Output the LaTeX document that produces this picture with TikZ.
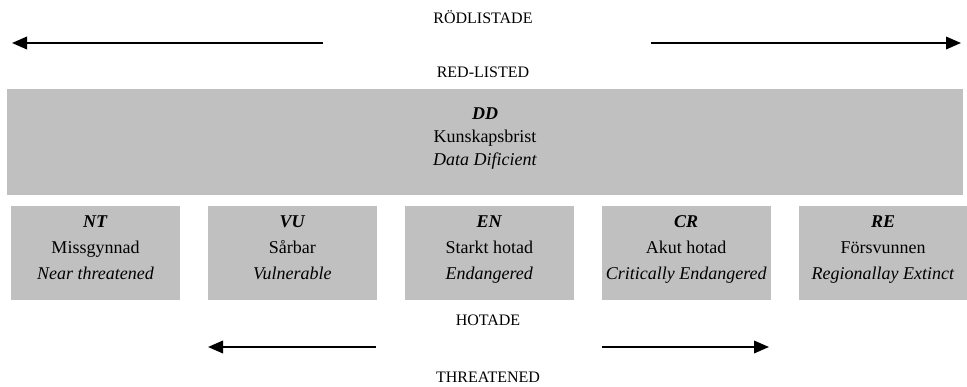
\documentclass[tikz,border=0pt]{standalone}
\usepackage{fontspec}
\setmainfont{Liberation Serif}
\usepackage{tikz}
\usetikzlibrary{arrows.meta, positioning}

\definecolor{boxgray}{RGB}{192,192,192}
\newcommand{\catabbr}[1]{\textbf{\textit{#1}}}
\newcommand{\cattriple}[3]{\catabbr{#1}\strut\\#2\\\textit{#3}\strut}

\begin{document}
\begin{tikzpicture}[
    x=1pt, y=-1pt,
    node distance=27.5pt,
    bigbox/.style={rectangle, fill=boxgray, minimum width=956pt, minimum height=106pt, inner sep=0pt},
    catbox/.style={rectangle, fill=boxgray, minimum width=169pt, minimum height=94pt, inner sep=0pt},
    cattext/.style={align=center, font=\fontsize{18}{26}\selectfont, inner sep=0pt},
    ddtext/.style={align=center, font=\fontsize{18}{23}\selectfont, inner sep=0pt},
    headtext/.style={anchor=base, font=\fontsize{16}{19}\selectfont, inner sep=0pt},
    arrow/.style={-{Triangle[length=15pt, width=12.5pt]}, line width=2pt}
]
\useasboundingbox (0,0) rectangle (967,387);

% --- Rubriker ---
\node (rodlistade) [headtext] at (483,23.5) {RÖDLISTADE};
\node (redlisted) [headtext] at (483,77.5) {RED-LISTED};
\node (hotade) [headtext] at (488,325.5) {HOTADE};
\node (threatened) [headtext] at (488,383) {THREATENED};

% --- DD ---
\node (dd) [bigbox] at (485,142) {};
\node (dd-text) [ddtext] at ([yshift=3.6pt]dd.center) {\cattriple{DD}{Kunskapsbrist}{Data Dificient}};

% --- Kategorier ---
\node (nt) [catbox] at (95.5,253) {};
\node (vu) [catbox, right=of nt] {};
\node (en) [catbox, right=of vu] {};
\node (cr) [catbox, right=of en] {};
\node (re) [catbox, right=of cr] {};

\node (nt-text) [cattext] at ([yshift=4.2pt]nt.center) {\cattriple{NT}{Missgynnad}{Near threatened}};
\node (vu-text) [cattext] at ([yshift=4.2pt]vu.center) {\cattriple{VU}{Sårbar}{Vulnerable}};
\node (en-text) [cattext] at ([yshift=4.2pt]en.center) {\cattriple{EN}{Starkt hotad}{Endangered}};
\node (cr-text) [cattext] at ([yshift=4.2pt]cr.center) {\cattriple{CR}{Akut hotad}{Critically Endangered}};
\node (re-text) [cattext] at ([yshift=4.2pt]re.center) {\cattriple{RE}{Försvunnen}{Regionallay Extinct}};

% --- Pilar ---
\coordinate (red-l-start) at (323,43);
\coordinate (red-l-end) at (12,43);
\coordinate (red-r-start) at (651,43);
\coordinate (red-r-end) at (961,43);
\coordinate (thr-l-start) at (376,347);
\coordinate (thr-l-end) at (208,347);
\coordinate (thr-r-start) at (602,347);
\coordinate (thr-r-end) at (769,347);

\draw [arrow] (red-l-start) -- (red-l-end);
\draw [arrow] (red-r-start) -- (red-r-end);
\draw [arrow] (thr-l-start) -- (thr-l-end);
\draw [arrow] (thr-r-start) -- (thr-r-end);

\end{tikzpicture}
\end{document}
